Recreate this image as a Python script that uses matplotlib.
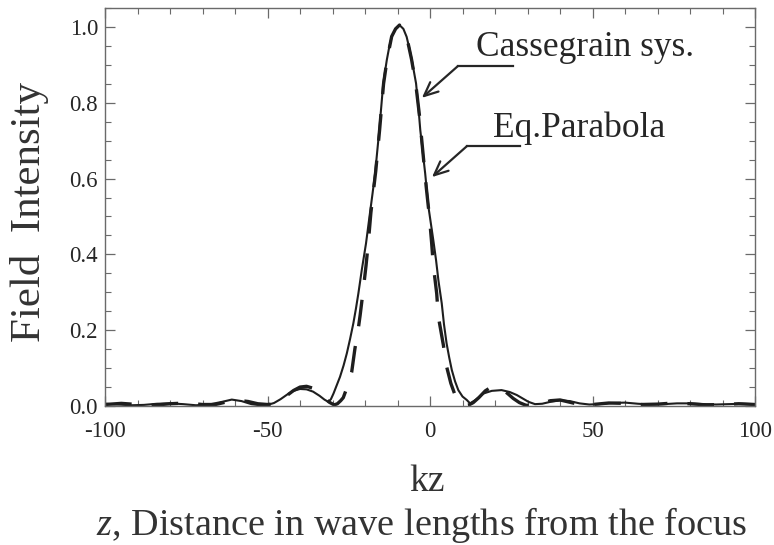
import matplotlib
matplotlib.use("Agg")
import matplotlib.pyplot as plt
from matplotlib.ticker import MultipleLocator

plt.rcParams['font.family'] = ['Liberation Serif', 'DejaVu Serif']
plt.rcParams['mathtext.fontset'] = 'custom'
plt.rcParams['mathtext.it'] = 'Liberation Serif:italic'
plt.rcParams['mathtext.rm'] = 'Liberation Serif'

# Cassegrain system, normalised field intensity vs kz
kz_cass = [-100, -96, -92, -88, -84, -80, -76, -72, -68, -64, -61, -58, -55, -52.3,
           -50, -48, -46, -44, -42, -40, -38, -36, -34, -32.5, -31.3, -30.5, -29.7,
           -28.7, -27.7, -26.6, -25.6, -24.6, -23.6, -22.8, -22.05, -21.0, -19.7,
           -18.5, -17.7, -16.9, -15.7, -15.0, -14.4, -13.3, -12.6, -11.8, -10.6,
           -9.4, -8.2, -7.2, -6.4, -5.6, -4.3, -3.6, -3.0, -1.5, -0.5, 1.0, 1.85,
           2.6, 3.6, 4.3, 5.1, 5.9, 6.7, 7.7, 8.7, 10.0, 11.3, 12.3, 14.0, 16.4,
           19.0, 22.0, 24.5, 26.7, 28.5, 30.3, 32.3, 34.5, 37.0, 40.0, 43.0, 46.0,
           49.0, 52.0, 56.0, 60.0, 64.0, 68.0, 72.0, 76.0, 80.0, 84.0, 88.0, 92.0,
           96.0, 100.0]
I_cass = [0.006, 0.004, 0.002, 0.003, 0.006, 0.007, 0.005, 0.002, 0.004, 0.011, 0.017,
          0.013, 0.005, 0.002, 0.003, 0.008, 0.018, 0.030, 0.040, 0.045, 0.044, 0.038,
          0.027, 0.017, 0.011, 0.018, 0.033, 0.055, 0.077, 0.107, 0.139, 0.177, 0.218,
          0.257, 0.297, 0.359, 0.429, 0.508, 0.560, 0.614, 0.720, 0.790, 0.851, 0.913,
          0.945, 0.974, 0.995, 1.005, 0.995, 0.974, 0.945, 0.913, 0.851, 0.790, 0.728,
          0.614, 0.526, 0.438, 0.385, 0.330, 0.271, 0.215, 0.165, 0.128, 0.095, 0.065,
          0.042, 0.025, 0.016, 0.007, 0.016, 0.033, 0.040, 0.042, 0.037, 0.029, 0.020,
          0.011, 0.005, 0.006, 0.011, 0.015, 0.013, 0.007, 0.004, 0.005, 0.008, 0.009,
          0.006, 0.004, 0.005, 0.007, 0.007, 0.005, 0.004, 0.005, 0.006, 0.005]

# equivalent parabola
kz_para = [-100, -95, -90, -85, -80, -75, -70, -66, -62, -59, -56, -53, -50, -48, -46,
           -44, -42, -40, -38, -36, -34, -32.5, -31, -29.5, -28.5, -27.5, -26.7, -25.5,
           -24.1, -23.1, -22.3, -21.5, -20.5, -19.7, -19.0, -18.2, -16.7, -15.5, -14.3,
           -13.2, -11.8, -10.6, -9.4, -8.2, -7.2, -5.7, -4.4, -3.3, -2.2, -1.2, -0.2,
           0.5, 1.0, 2.05, 2.55, 3.3, 4.1, 5.1, 6.4, 7.7, 9.0, 10.8, 12.0, 13.3, 15.0,
           17.0, 19.0, 20.5, 22.0, 24.0, 25.6, 27.5, 29.5, 31.5, 34.0, 37.0, 40.0, 43.0,
           46.0, 50.0, 55.0, 60.0, 65.0, 70.0, 75.0, 80.0, 85.0, 90.0, 95.0, 100.0]
I_para = [0.004, 0.007, 0.004, 0.002, 0.006, 0.008, 0.004, 0.004, 0.012, 0.015, 0.012,
          0.006, 0.004, 0.006, 0.015, 0.028, 0.041, 0.050, 0.052, 0.047, 0.035, 0.022,
          0.010, 0.003, 0.006, 0.014, 0.022, 0.050, 0.090, 0.152, 0.190, 0.240, 0.310,
          0.370, 0.430, 0.510, 0.620, 0.730, 0.850, 0.915, 0.975, 0.995, 1.005, 0.995,
          0.975, 0.915, 0.850, 0.770, 0.670, 0.580, 0.500, 0.430, 0.372, 0.297, 0.236,
          0.200, 0.161, 0.104, 0.060, 0.029, 0.010, 0.001, 0.003, 0.009, 0.022, 0.040,
          0.051, 0.052, 0.046, 0.032, 0.020, 0.009, 0.002, 0.002, 0.006, 0.014, 0.016,
          0.010, 0.004, 0.004, 0.008, 0.007, 0.004, 0.005, 0.008, 0.006, 0.003, 0.004,
          0.006, 0.004]

fig = plt.figure(figsize=(7.74, 5.45), dpi=100)
ax = fig.add_axes([0.1357, 0.2550, 0.8398, 0.7303])

line_col = '#1e1e1e'
ax.plot(kz_cass, I_cass, color=line_col, lw=1.5, solid_joinstyle='round')
dash, = ax.plot(kz_para, I_para, color=line_col, lw=2.4)
dash.set_dashes([8, 6])

ax.set_xlim(-100, 100)
ax.set_ylim(0, 1.05)
ax.xaxis.set_major_locator(MultipleLocator(50))
ax.xaxis.set_minor_locator(MultipleLocator(10))
ax.yaxis.set_major_locator(MultipleLocator(0.2))
ax.yaxis.set_minor_locator(MultipleLocator(0.05))
ax.xaxis.set_major_formatter(lambda v, p: f"{v:.0f}")
ax.yaxis.set_major_formatter(lambda v, p: f"{v:.1f}")

frame_col = '#6a6a6a'
for s in ax.spines.values():
    s.set_color(frame_col)
    s.set_linewidth(1.0)
ax.tick_params(which='both', direction='in', top=True, right=True,
               color=frame_col, labelsize=16.5, labelcolor='#262626')
ax.tick_params(which='major', length=7, width=0.9)
ax.tick_params(axis='x', which='major', pad=11)
ax.tick_params(axis='y', which='major', pad=5)
ax.tick_params(which='minor', length=4, width=0.8)

# callouts
txt_kw = dict(fontsize=25.5, color='#262626')
ax.text(14.2, 0.947, 'Cassegrain sys.', va='center', ha='left', **txt_kw)
ax.text(19.4, 0.733, 'Eq.Parabola', va='center', ha='left', **txt_kw)
arrow = dict(arrowstyle='->,head_length=1.0,head_width=0.45', color='#262626', lw=1.6,
             shrinkA=0, shrinkB=0)
ax.plot([25.5, 8.6], [0.897, 0.897], color='#262626', lw=1.6)
ax.annotate('', xy=(-2.5, 0.813), xytext=(8.6, 0.897), arrowprops=arrow)
ax.plot([27.7, 11.4], [0.686, 0.686], color='#262626', lw=1.6)
ax.annotate('', xy=(0.6, 0.604), xytext=(11.4, 0.686), arrowprops=arrow)

fig.text(30 / 774, 1 - 212 / 545, 'Field  Intensity', rotation=90, ha='center',
         va='center', fontsize=31, color='#333333')
fig.text(427 / 774, 1 - 491 / 545, 'kz', ha='center', va='baseline', fontsize=27,
         color='#333333')
fig.text(422 / 774, 1 - 535 / 545, r'$z$, Distance in wave lengths from the focus',
         ha='center', va='baseline', fontsize=27.5, color='#333333')

fig.savefig('out.png', dpi=100)
